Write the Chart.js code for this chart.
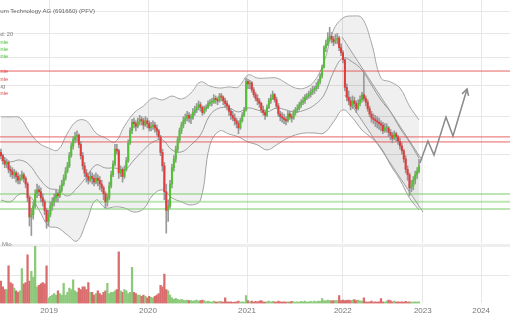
<!DOCTYPE html>
<html>
<head>
<meta charset="utf-8">
<script src="https://cdn.jsdelivr.net/npm/chart.js@4.4.1/dist/chart.umd.min.js"></script>
<style>
    html, body { margin: 0; padding: 0; background: #fff; width: 510px; height: 320px; overflow: hidden; position: relative; font-family: "Liberation Sans", Arial, sans-serif; }
    #kurs { position: absolute; left: 0; top: 0; }
    #vol { position: absolute; left: 0; top: 243px; }
    .txt { position: absolute; white-space: nowrap; text-align: right; }
    .leg { font-size: 5.6px; line-height: 6px; }
</style>
</head>
<body>
<canvas id="kurs" width="510" height="243"></canvas>
<canvas id="vol" width="510" height="77"></canvas>
<div class="txt" style="right:415px; top:6.5px; font-size:6.1px; line-height:7px; color:#666;">Pfeiffer Vacuum Technology AG (691660) (PFV)</div>
<div class="txt leg" style="right:497px; top:30.5px; color:#777;">Bollinger Band: 20</div>
<div class="txt leg" style="right:502px; top:38.5px; color:#44c233;">Unterstützungslinie</div>
<div class="txt leg" style="right:502px; top:45.8px; color:#44c233;">Unterstützungslinie</div>
<div class="txt leg" style="right:502px; top:53px; color:#44c233;">Unterstützungslinie</div>
<div class="txt leg" style="right:502px; top:67.8px; color:#e04848;">Widerstandslinie</div>
<div class="txt leg" style="right:502px; top:75.7px; color:#e04848;">Widerstandslinie</div>
<div class="txt leg" style="right:505px; top:83px; color:#777;">Trendbezug</div>
<div class="txt leg" style="right:502px; top:90.3px; color:#e04848;">Widerstandslinie</div>
<div class="txt" style="left:2px; top:241px; font-size:6px; line-height:6px; color:#888;">Mio.</div>
<script>
// Wochenkerzen (Kurs in EUR)
const eroeffnung = [
    126,124,121,119,120,116,115,113,114,112, 110,111,113,111,108,101,92,93,97,103,
    105,104,101,99,95,90,93,97,99,101, 103,102,105,108,111,115,118,124,130,134,
    136,137,131,124,118,114,112,110,112,111, 109,111,110,108,106,103,99,101,107,113,
    119,128,127,114,116,112,116,121,132,140, 146,145,143,146,148,147,144,147,145,142,
    143,144,142,140,136,126,118,104,95,97, 108,117,122,128,134,140,144,147,149,151,
    149,149,153,155,157,159,157,153,156,157, 160,161,161,164,163,162,166,165,162,160,
    158,154,151,149,147,145,142,147,151,155, 178,176,177,171,167,164,162,160,155,153,
    151,157,162,164,167,163,158,152,150,149, 148,147,152,150,149,153,155,156,159,161,
    162,165,166,167,169,171,172,174,178,183, 191,210,214,220,222,219,216,218,220,210,
    205,198,173,165,162,158,162,160,156,160, 163,167,164,161,156,152,149,148,147,146,
    145,144,140,142,142,139,137,135,138,136, 133,130,127,122,116,113,106,107,110,113,115
];
const hoch = [
    128,125,123,122,121,118,117,116,115,114, 113,115,114,112,109,102,96,99,105,108,
    107,106,103,100,96,95,99,101,103,105, 104,107,110,113,117,120,126,132,136,139,
    140,138,133,126,120,116,114,115,114,113, 114,113,112,110,107,104,103,109,115,121,
    131,131,128,118,117,118,123,134,142,148, 149,147,149,151,150,149,150,149,147,146,
    147,146,144,141,137,128,120,108,100,110, 119,124,130,136,142,146,150,152,154,153,
    152,156,158,160,162,161,158,158,159,162, 163,164,167,166,165,168,168,166,164,162,
    159,156,154,152,149,147,149,153,157,181, 180,179,178,173,169,167,164,161,158,155,
    159,164,167,170,168,165,160,154,153,152, 150,154,154,152,155,157,159,161,163,165,
    167,168,170,172,174,174,177,180,185,193, 212,218,226,232,226,222,224,225,222,214,
    207,199,176,170,165,166,165,162,163,166, 169,186,166,163,158,154,152,151,150,149,
    147,146,145,145,143,141,139,140,139,137, 135,132,128,124,118,114,110,112,115,117,122
];
const tief = [
    122,119,117,117,114,112,111,111,109,108, 108,110,109,106,99,88,84,91,96,101,
    102,99,97,93,87,88,92,95,97,99, 99,101,104,107,110,114,117,123,128,132,
    133,129,122,116,112,109,108,109,108,107, 108,107,105,104,100,96,97,100,106,112,
    118,125,111,112,109,111,115,120,131,138, 142,140,142,144,144,141,143,142,140,140,
    141,139,137,134,124,115,100,85,90,96, 106,115,120,126,132,138,142,145,147,146,
    145,148,151,153,155,154,151,152,154,156, 158,158,160,160,159,161,162,159,157,155,
    151,148,147,144,142,138,141,146,150,154, 172,172,169,165,162,159,157,153,151,148,
    150,156,160,163,161,156,150,147,146,145, 144,146,148,146,148,151,153,155,157,159,
    160,163,164,165,167,168,170,172,176,181, 190,206,212,217,215,212,214,214,207,202,
    195,170,162,159,155,156,157,153,155,158, 161,162,158,154,150,146,145,143,142,141,
    140,138,139,139,136,134,132,134,133,131, 128,125,120,114,110,102,104,105,108,111,114
];
const schluss = [
    124,121,119,120,116,115,113,114,112,110, 111,113,111,108,101,92,93,97,103,105,
    104,101,99,95,90,93,97,99,101,103, 102,105,108,111,115,118,124,130,134,136,
    137,131,124,118,114,112,110,112,111,109, 111,110,108,106,103,99,101,107,113,119,
    128,127,114,116,112,116,121,132,140,146, 145,143,146,148,147,144,147,145,142,143,
    144,142,140,136,126,118,104,95,97,108, 117,122,128,134,140,144,147,149,151,149,
    149,153,155,157,159,157,153,156,157,160, 161,161,164,163,162,166,165,162,160,158,
    154,151,149,147,145,142,147,151,155,178, 176,177,171,167,164,162,160,155,153,151,
    157,162,164,167,163,158,152,150,149,148, 147,152,150,149,153,155,156,159,161,162,
    165,166,167,169,171,172,174,178,183,191, 210,214,220,222,219,216,218,220,210,205,
    198,173,165,162,158,162,160,156,160,163, 167,164,161,156,152,149,148,147,146,145,
    144,140,142,142,139,137,135,138,136,133, 130,127,122,116,113,106,107,110,113,115,118
];
// Umsatz in Mio. Stück
const volumen = [
    0.8,0.6,0.5,0.5,1.35,0.75,0.7,0.55,0.45,0.4, 0.45,1.25,0.7,0.75,1.75,0.8,1.15,0.95,2.05,0.6,
    0.65,0.7,0.75,0.7,1.35,0.2,0.25,0.3,0.35,0.3, 0.45,0.35,0.3,0.72,0.3,0.4,0.55,0.5,0.85,0.45,
    0.4,0.55,0.5,0.6,0.6,0.5,0.75,0.4,0.4,0.3, 0.35,0.45,0.35,0.3,0.4,0.45,0.72,0.35,0.4,0.4,
    0.45,0.5,1.85,0.45,0.4,0.5,0.45,0.35,0.4,1.3, 0.4,0.35,0.3,0.3,0.25,0.3,0.25,0.2,0.25,0.22,
    0.2,0.25,0.3,0.35,0.65,0.6,1.05,0.5,0.45,0.3, 0.2,0.15,0.18,0.15,0.12,0.15,0.12,0.1,0.12,0.1,
    0.1,0.08,0.1,0.12,0.08,0.1,0.12,0.1,0.06,0.08, 0.06,0.05,0.08,0.06,0.05,0.07,0.06,0.05,0.2,0.06,
    0.05,0.06,0.04,0.05,0.06,0.08,0.05,0.06,0.05,0.28, 0.1,0.06,0.08,0.05,0.07,0.06,0.08,0.1,0.06,0.05,
    0.06,0.08,0.05,0.07,0.06,0.05,0.08,0.06,0.05,0.06, 0.05,0.06,0.05,0.07,0.06,0.05,0.06,0.05,0.07,0.06,
    0.08,0.05,0.06,0.07,0.06,0.08,0.06,0.08,0.07,0.17, 0.1,0.09,0.12,0.1,0.09,0.1,0.1,0.1,0.28,0.1,
    0.12,0.1,0.11,0.12,0.1,0.12,0.14,0.1,0.12,0.09, 0.08,0.2,0.06,0.05,0.06,0.08,0.05,0.06,0.05,0.06,
    0.17,0.06,0.05,0.08,0.12,0.1,0.06,0.08,0.05,0.06, 0.05,0.06,0.05,0.07,0.05,0.06,0.05,0.05,0.06,0.05,0.06
];

const bandIdx = [0,5,10,15,20,25,30,35,40,45,50,55,60,65,70,75,80,85,90,95,100,105,110,115,120,
    125,130,135,140,145,150,155,160,165,170,175,180,185,190,195,200,205,210,215,220];
const bandOben = [
    149.8,149.8,149.1,139.2,131.9,128.8,127.5,138.5,146.9,146.9,
    138.5,135.2,132.6,143.3,152.7,158.0,164.3,162.7,165.9,163.5,
    168.4,177.7,174.2,172.5,173.4,173.4,183.8,181.1,181.1,181.1,
    176.8,172.5,172.5,178.5,195.8,228.9,242.7,245.1,242.7,214.9,
    181.1,177.7,172.5,158.0,147.6
];
const bandMitte = [
    121.4,120.3,121.4,118.5,111.2,105.9,104.9,101.9,105.9,111.8,
    118.5,116.8,116.8,115.7,121.4,127.5,132.6,133.9,127.5,126.3,
    130.7,137.2,151.2,156.5,156.5,153.5,156.5,155.0,153.5,156.5,
    155.0,153.5,155.0,158.8,166.7,186.5,199.7,195.8,188.3,175.1,
    162.7,153.5,141.9,132.6,122.6
];
const bandUnten = [
    99.9,99.0,102.9,101.9,95.2,88.0,87.2,84.2,81.8,89.8,
    99.9,96.1,96.6,96.1,94.2,95.6,102.4,104.9,100.9,99.0,
    97.5,99.9,130.7,139.9,137.8,135.9,132.6,130.7,127.5,130.7,
    134.5,137.2,138.5,138.5,138.5,146.2,155.0,149.1,140.6,135.2,
    128.8,118.5,110.2,100.9,95.2
];

// Widerstands- und Unterstützungslinien
const widerstand = [187.4, 135.9, 132.6];
const unterstuetzung = [102.9, 99.0, 95.6];

// Abwärtstrendkanal 2022
const kanalIdx = [179.5, 221.6];
const kanalOben = [221.2, 121.4];
const kanalUntenIdx = [181.0, 222.1];
const kanalUnten = [166.7, 94.2];

// Prognose-Pfeil
const prognoseIdx = [220.5, 224.7, 227.9, 234.2, 237.9, 245.3];
const prognoseKurs = [119.7, 133.2, 124.4, 149.8, 136.5, 171.7];

// Achsen
const jahrPos = [25.3, 77.4, 129.5, 179.9, 222.0, 252.7];
const jahre = ['2019', '2020', '2021', '2022', '2023', '2024'];
const kursRaster = [125, 150, 175, 200, 225, 250];
const volRaster = [1, 2.1];

const xMin = -0.5, xMax = 267.9;
const gitter = '#e7e7e7';

function punkte(xs, ys) {
    return xs.map((x, i) => ({ x: x, y: ys[i] }));
}

const steigt = schluss.map((c, i) => c >= eroeffnung[i]);
const idx = schluss.map((c, i) => i);

function linie(werte, farbe, breite) {
    return {
        type: 'line',
        data: [{ x: xMin, y: werte }, { x: xMax, y: werte }],
        borderColor: farbe,
        borderWidth: breite,
        pointRadius: 0,
        order: 3,
    };
}

// Pfeilspitze am Ende der Prognose
const pfeilspitze = {
    id: 'pfeilspitze',
    afterDatasetsDraw(chart) {
        const meta = chart.getDatasetMeta(2);
        const n = meta.data.length;
        const a = meta.data[n - 2], b = meta.data[n - 1];
        const ang = Math.atan2(b.y - a.y, b.x - a.x);
        const ctx = chart.ctx;
        ctx.save();
        ctx.strokeStyle = '#8a8a8a';
        ctx.lineWidth = 1.5;
        ctx.beginPath();
        ctx.moveTo(b.x - 7 * Math.cos(ang - 0.5), b.y - 7 * Math.sin(ang - 0.5));
        ctx.lineTo(b.x, b.y);
        ctx.lineTo(b.x - 7 * Math.cos(ang + 0.5), b.y - 7 * Math.sin(ang + 0.5));
        ctx.stroke();
        ctx.restore();
    }
};

function zeichneKurschart() {
    const datasets = [
        {
            type: 'bar',
            data: idx.map(i => ({ x: i, y: [eroeffnung[i], schluss[i]] })),
            backgroundColor: idx.map(i => steigt[i] ? '#52c234' : '#e23b3b'),
            barThickness: 1.4,
            minBarLength: 1,
            grouped: false,
            order: 0,
        },
        {
            type: 'bar',
            data: idx.map(i => ({ x: i, y: [tief[i], hoch[i]] })),
            backgroundColor: '#999999',
            barThickness: 1,
            grouped: false,
            order: 1,
        },
        {
            type: 'line',
            data: punkte(prognoseIdx, prognoseKurs),
            borderColor: '#8a8a8a',
            borderWidth: 1.5,
            pointRadius: 0,
            tension: 0,
            order: 2,
        },
    ];
    widerstand.forEach(w => datasets.push(linie(w, 'rgba(228,72,72,0.85)', 1)));
    unterstuetzung.forEach(u => datasets.push(linie(u, 'rgba(120,205,105,0.5)', 2)));

    datasets.push({
        type: 'line',
        data: punkte(kanalIdx, kanalOben),
        borderColor: '#a0a0a0',
        borderWidth: 1,
        pointRadius: 0,
        fill: '+1',
        backgroundColor: 'rgba(0,0,0,0.045)',
        order: 4,
    });
    datasets.push({
        type: 'line',
        data: punkte(kanalUntenIdx, kanalUnten),
        borderColor: '#a0a0a0',
        borderWidth: 1,
        pointRadius: 0,
        order: 4,
    });

    datasets.push({
        type: 'line',
        data: punkte(bandIdx, bandOben),
        borderColor: '#a6a6a6',
        borderWidth: 1,
        pointRadius: 0,
        tension: 0.4,
        fill: '+2',
        backgroundColor: 'rgba(0,0,0,0.06)',
        order: 5,
    });
    datasets.push({
        type: 'line',
        data: punkte(bandIdx, bandMitte),
        borderColor: '#a6a6a6',
        borderWidth: 1,
        pointRadius: 0,
        tension: 0.4,
        order: 5,
    });
    datasets.push({
        type: 'line',
        data: punkte(bandIdx, bandUnten),
        borderColor: '#a6a6a6',
        borderWidth: 1,
        pointRadius: 0,
        tension: 0.4,
        order: 5,
    });

    new Chart(document.getElementById('kurs'), {
        type: 'bar',
        data: { datasets: datasets },
        options: {
            responsive: false,
            animation: false,
            events: [],
            layout: { padding: 0 },
            plugins: { legend: { display: false }, tooltip: { enabled: false } },
            scales: {
                x: {
                    type: 'linear', min: xMin, max: xMax, offset: false,
                    ticks: { display: false },
                    grid: { color: gitter, drawTicks: false, offset: false },
                    border: { display: false },
                    afterBuildTicks: s => { s.ticks = jahrPos.map(v => ({ value: v })); },
                },
                y: {
                    type: 'logarithmic', min: 81, max: 265,
                    ticks: { display: false },
                    grid: { color: gitter, drawTicks: false },
                    border: { display: false },
                    afterBuildTicks: s => { s.ticks = kursRaster.map(v => ({ value: v })); },
                },
            },
        },
        plugins: [pfeilspitze],
    });
}

function zeichneVolumen() {
    new Chart(document.getElementById('vol'), {
        type: 'bar',
        data: {
            datasets: [{
                data: idx.map(i => ({ x: i, y: volumen[i] })),
                backgroundColor: idx.map(i => steigt[i] ? '#8dc97a' : '#d96c6c'),
                barThickness: 1.6,
                grouped: false,
            }],
        },
        options: {
            responsive: false,
            animation: false,
            events: [],
            layout: { padding: { top: 2, bottom: 1, left: 0, right: 0 } },
            plugins: { legend: { display: false }, tooltip: { enabled: false } },
            scales: {
                x: {
                    type: 'linear', min: xMin, max: xMax, offset: false,
                    ticks: {
                        color: '#777', font: { size: 8 }, padding: 3,
                        autoSkip: false, maxRotation: 0,
                        callback: (v, i) => jahre[i],
                    },
                    grid: { color: gitter, drawTicks: false, offset: false },
                    border: { display: false },
                    afterBuildTicks: s => { s.ticks = jahrPos.map(v => ({ value: v })); },
                },
                y: {
                    min: 0, max: 2.1,
                    ticks: { display: false },
                    grid: {
                        drawTicks: false,
                        color: c => c.tick && c.tick.value === 2.1 ? '#eeeeee' : gitter,
                        lineWidth: c => c.tick && c.tick.value === 2.1 ? 3 : 1,
                    },
                    border: { display: false },
                    afterBuildTicks: s => { s.ticks = volRaster.map(v => ({ value: v })); },
                },
            },
        },
    });
}

zeichneKurschart();
zeichneVolumen();
</script>
</body>
</html>
